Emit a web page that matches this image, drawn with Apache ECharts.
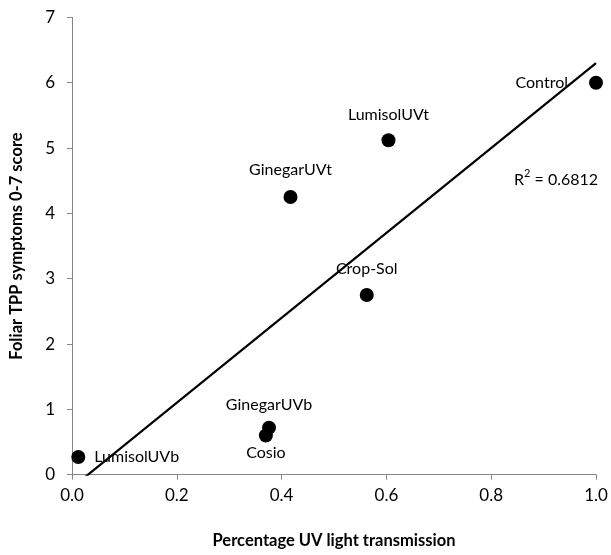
<!DOCTYPE html>
<html>
<head>
<meta charset="utf-8">
<script src="https://cdn.jsdelivr.net/npm/echarts@6/dist/echarts.min.js"></script>
<style>html,body{margin:0;padding:0;background:#fff}#c{width:611px;height:555px}</style>
</head>
<body>
<div id="c"></div>
<script>
// Data
var names = ['LumisolUVb', 'GinegarUVb', 'Cosio', 'Crop-Sol', 'GinegarUVt', 'LumisolUVt', 'Control'];
var uvTransmission = [0.012, 0.376, 0.370, 0.5625, 0.417, 0.604, 1.0];
var symptomScore = [0.27, 0.72, 0.60, 2.75, 4.25, 5.12, 6.0];
var trendX = [0.012, 1.0];
var trendY = [-0.12, 6.30];
var xTicks = [0, 0.2, 0.4, 0.6, 0.8, 1.0];
var yTicks = [0, 1, 2, 3, 4, 5, 6, 7];
var rSquared = '0.6812';

// label placement (style only)
var labelStyle = {
  'LumisolUVb': {position: 'right', distance: 9},
  'GinegarUVb': {position: 'top', distance: 8},
  'Cosio': {position: 'bottom', distance: 2},
  'Crop-Sol': {position: 'top', distance: 11},
  'GinegarUVt': {position: 'top', distance: 12},
  'LumisolUVt': {position: 'top', distance: 10},
  'Control': {position: 'left', distance: 21}
};

var FONT = 'Lato, "Open Sans", sans-serif';
var pts = names.map(function (n, i) {
  var ls = labelStyle[n];
  return {
    name: n,
    value: [uvTransmission[i], symptomScore[i]],
    label: {show: true, position: ls.position, distance: ls.distance, formatter: n}
  };
});

var chart = echarts.init(document.getElementById('c'), null, {renderer: 'canvas'});
chart.setOption({
  animation: false,
  backgroundColor: '#ffffff',
  grid: {left: 68, right: 15, top: 17.4, bottom: 80.3, containLabel: false},
  xAxis: {
    type: 'value', min: xTicks[0], max: xTicks[xTicks.length - 1], interval: 0.2,
    name: 'Percentage UV light transmission', nameLocation: 'middle', nameGap: 57,
    nameTextStyle: {fontFamily: FONT, fontWeight: 'bold', fontSize: 16.5, color: '#000'},
    axisLine: {show: true, lineStyle: {color: '#868686', width: 1}},
    axisTick: {show: true, inside: false, length: 5, lineStyle: {color: '#868686'}},
    axisLabel: {fontFamily: FONT, fontSize: 17, color: '#000', margin: 12,
      formatter: function (v) { return v.toFixed(1); }},
    splitLine: {show: false}
  },
  yAxis: {
    type: 'value', min: yTicks[0], max: yTicks[yTicks.length - 1], interval: 1,
    name: 'Foliar TPP symptoms 0-7 score', nameLocation: 'middle', nameGap: 47,
    nameTextStyle: {fontFamily: FONT, fontWeight: 'bold', fontSize: 16.5, color: '#000'},
    axisLine: {show: true, lineStyle: {color: '#868686', width: 1}},
    axisTick: {show: true, inside: false, length: 5, lineStyle: {color: '#868686'}},
    axisLabel: {fontFamily: FONT, fontSize: 17, color: '#000', margin: 17},
    splitLine: {show: false}
  },
  series: [
    {
      type: 'line',
      data: trendX.map(function (x, i) { return [x, trendY[i]]; }),
      showSymbol: false, symbol: 'none', clip: true,
      lineStyle: {color: '#000', width: 2.2},
      silent: true, z: 2
    },
    {
      type: 'scatter',
      data: pts,
      symbol: 'circle', symbolSize: 14,
      itemStyle: {color: '#000', opacity: 1},
      label: {fontFamily: FONT, fontSize: 16, color: '#000'},
      z: 3
    }
  ],
  graphic: [{
    type: 'text', left: 514, top: 168,
    style: {
      text: '{r|R}{s|2}{r| = ' + rSquared + '}',
      rich: {
        r: {fontFamily: FONT, fontSize: 16, fill: '#000', verticalAlign: 'bottom', lineHeight: 20},
        s: {fontFamily: FONT, fontSize: 11, fill: '#000', verticalAlign: 'top', lineHeight: 20}
      }
    }
  }]
});
</script>
</body>
</html>
